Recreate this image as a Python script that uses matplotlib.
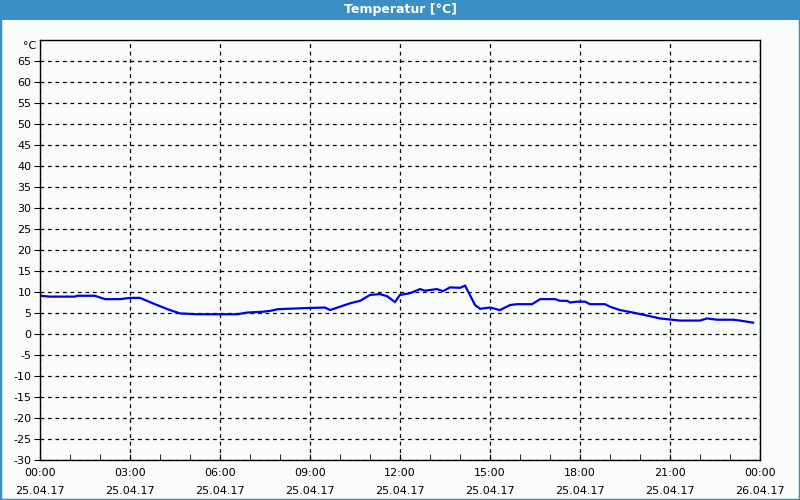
import matplotlib
matplotlib.use("Agg")
import matplotlib.pyplot as plt
from matplotlib.patches import Rectangle
from matplotlib.ticker import MultipleLocator

# data (hours since 25.04.17 00:00, temperature in °C)
hours = [0.0, 0.33, 1.17, 1.23, 1.83, 2.17, 2.67, 3.0, 3.33, 3.5, 3.9, 4.33,
         4.67, 5.23, 6.57, 6.9, 7.43, 7.67, 7.93, 8.23, 9.0, 9.5, 9.67, 10.0,
         10.33, 10.67, 11.0, 11.33, 11.57, 11.83, 12.0, 12.33, 12.67, 12.83,
         13.23, 13.43, 13.67, 14.0, 14.17, 14.33, 14.5, 14.67, 15.0, 15.33,
         15.67, 15.9, 16.4, 16.67, 17.17, 17.33, 17.57, 17.67, 17.9, 18.17,
         18.33, 18.83, 19.0, 19.33, 19.77, 20.23, 20.67, 21.33, 22.0, 22.23,
         22.57, 23.1, 23.33, 23.77]
temps = [9.1, 8.9, 8.9, 9.1, 9.1, 8.3, 8.3, 8.6, 8.6, 8.1, 6.9, 5.7,
         4.9, 4.7, 4.7, 5.1, 5.3, 5.5, 5.9, 6.0, 6.2, 6.3, 5.7, 6.5,
         7.3, 7.9, 9.3, 9.5, 9.0, 7.6, 9.3, 9.7, 10.7, 10.3,
         10.7, 10.2, 11.1, 11.0, 11.5, 9.3, 6.9, 6.0, 6.3, 5.7,
         6.9, 7.1, 7.1, 8.3, 8.3, 7.9, 7.9, 7.5, 7.7, 7.7,
         7.1, 7.1, 6.5, 5.7, 5.1, 4.4, 3.7, 3.2, 3.2, 3.7,
         3.4, 3.4, 3.2, 2.7]
x_tick_labels = ["00:00\n25.04.17", "03:00\n25.04.17", "06:00\n25.04.17",
                 "09:00\n25.04.17", "12:00\n25.04.17", "15:00\n25.04.17",
                 "18:00\n25.04.17", "21:00\n25.04.17", "00:00\n26.04.17"]
y_ticks = list(range(-30, 70, 5))
title = "Temperatur [°C]"

W, H = 800, 500
fig = plt.figure(figsize=(8, 5), dpi=100, facecolor="#FAFCFA")

# border and title bar
fig.patches.append(Rectangle((0, 0), 1, 1, transform=fig.transFigure,
                             facecolor="none", edgecolor="#3A8FC4", lw=2.5))
fig.patches.append(Rectangle((0, 1 - 20 / H), 1, 20 / H, transform=fig.transFigure,
                             facecolor="#3A8FC4", edgecolor="none"))
fig.text(0.5, 1 - 10 / H, title, color="white", fontsize=9, fontweight="bold",
         ha="center", va="center")

left, right, top, bottom = 40, 760, 40, 460
ax = fig.add_axes([left / W, 1 - bottom / H, (right - left) / W, (bottom - top) / H])
ax.set_facecolor("#FAFCFA")
ax.plot(hours, temps, color="#0000F0", lw=1.6, solid_joinstyle="miter")
ax.set_xlim(0, 24)
ax.set_ylim(-30, 70)
ax.set_xticks(range(0, 25, 3))
ax.set_xticklabels(x_tick_labels, fontsize=8, linespacing=1.9)
ax.xaxis.set_minor_locator(MultipleLocator(1))
ax.set_yticks(y_ticks)
ax.set_yticklabels([str(v) for v in y_ticks], fontsize=8)
ax.tick_params(axis="x", which="both", direction="in", length=4, pad=6, color="black")
ax.tick_params(axis="y", direction="out", length=4, pad=2)
ax.grid(True, which="major", color="black", linestyle=(0, (3, 3)), lw=0.9)
for s in ax.spines.values():
    s.set_color("black")
    s.set_linewidth(1)
fig.text(36 / W, 1 - 46 / H, "°C", fontsize=8, ha="right", va="center")

fig.savefig("out.png", dpi=100, facecolor=fig.get_facecolor())
